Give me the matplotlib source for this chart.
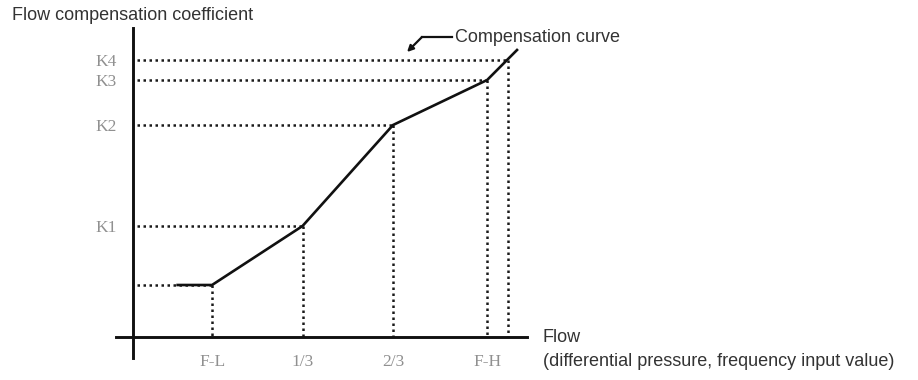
import matplotlib
matplotlib.use("Agg")
import matplotlib.pyplot as plt

# curve (flow, coefficient)
curve_x = [0.62, 1.0, 2.0, 3.0, 4.04, 4.37]
curve_y = [1.04, 1.04, 2.22, 4.24, 5.14, 5.74]

# guide points where dotted lines meet the curve
guide_x = [1.0, 2.0, 3.0, 4.04, 4.27]
guide_y = [1.04, 2.22, 4.24, 5.14, 5.54]

x_ticks = [1.0, 2.0, 3.0, 4.04]
x_labels = ["F-L", "1/3", "2/3", "F-H"]
y_ticks = [2.22, 4.24, 5.14, 5.54]
y_labels = ["K1", "K2", "K3", "K4"]

y_axis_x = 0.13

fig = plt.figure(figsize=(9.18, 3.8), dpi=100)
ax = fig.add_axes([0, 0, 1, 1])
ax.set_xlim(-1.343, 8.801)
ax.set_ylim(-0.86, 6.74)

# axes as spines
for s in ["top", "right"]:
    ax.spines[s].set_visible(False)
ax.spines["left"].set_position(("data", y_axis_x))
ax.spines["bottom"].set_position(("data", 0))
ax.spines["left"].set_bounds(-0.42, 6.18)
ax.spines["bottom"].set_bounds(-0.06, 4.48)
for s in ["left", "bottom"]:
    ax.spines[s].set_linewidth(2.1)
    ax.spines[s].set_color("#111111")

ax.set_xticks(x_ticks)
ax.set_xticklabels(x_labels)
ax.set_yticks(y_ticks)
ax.set_yticklabels(y_labels)
ax.tick_params(length=0, labelsize=12.5, labelcolor="#909090")
ax.tick_params(axis="x", pad=12)
ax.tick_params(axis="y", pad=12)
for lab in ax.get_xticklabels() + ax.get_yticklabels():
    lab.set_family("Liberation Serif")

dots = dict(color="#1a1a1a", lw=1.8, linestyle=(0, (1, 1.4)))
for gx, gy in zip(guide_x, guide_y):
    ax.plot([y_axis_x + 0.04, gx], [gy, gy], **dots)
    ax.plot([gx, gx], [gy, 0], **dots)

ax.plot(curve_x, curve_y, color="#111111", lw=1.9, solid_joinstyle="miter")

# callout
callout_x = [3.652, 3.32]
callout_y = [6.0, 6.0]
ax.plot(callout_x, callout_y, color="#111111", lw=1.6)
ax.annotate("", xy=(3.155, 5.70), xytext=(3.32, 6.0),
            arrowprops=dict(arrowstyle="-|>", color="#111111", lw=1.6,
                            mutation_scale=9, shrinkA=0, shrinkB=0))
ax.text(3.685, 6.0, "Compensation curve", fontsize=13, color="#333333",
        family="Liberation Sans", va="center", ha="left")

ax.text(-1.21, 6.42, "Flow compensation coefficient", fontsize=13,
        color="#333333", family="Liberation Sans", va="center", ha="left")
ax.text(4.657, 0.0, "Flow", fontsize=13, color="#333333",
        family="Liberation Sans", va="center", ha="left")
ax.text(4.657, -0.5, "(differential pressure, frequency input value)",
        fontsize=13, color="#333333", family="Liberation Sans",
        va="center", ha="left")

fig.savefig("out.png", dpi=100)
